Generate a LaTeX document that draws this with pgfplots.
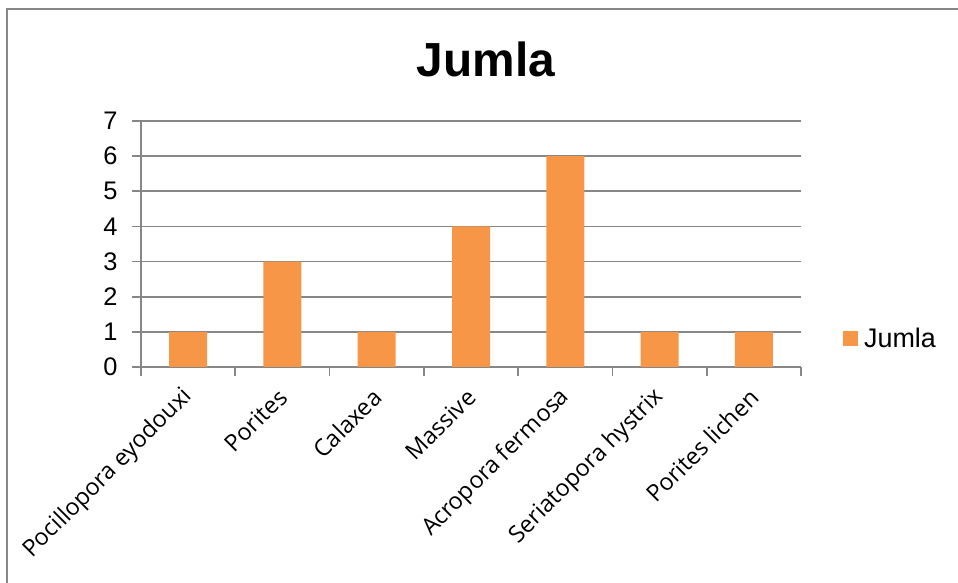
\documentclass[border=0pt]{standalone}
\usepackage{fontspec}
\setmainfont{Liberation Sans}
\newfontfamily\osans{Open Sans}
\usepackage{pgfplots}
\pgfplotsset{compat=1.18}
\definecolor{barorange}{HTML}{F79646}
\definecolor{gridgray}{HTML}{878787}
\begin{document}
\begin{tikzpicture}[x=1bp,y=1bp]
\useasboundingbox (0,0) rectangle (958,583);
\draw[gridgray, line width=2bp] (7,-5) -- (7,574) -- (965,574);
\node[anchor=base, font=\bfseries\fontsize{48}{52}\selectfont] at (486,506) {Jumla};
\begin{axis}[
  at={(141bp,216bp)}, anchor=south west,
  width=660bp, height=246bp, scale only axis,
  xmin=0.5, xmax=7.5, ymin=0, ymax=7,
  ybar, bar width=38bp,
  axis x line*=bottom, axis y line*=left,
  axis line style={gridgray, line width=1.6bp, -},
  tick align=outside, major tick length=9bp,
  tick style={gridgray, line width=1.6bp},
  ytick={0,...,7},
  ymajorgrids,
  major grid style={gridgray, line width=1.6bp},
  xtick={0.5,1.5,...,7.5},
  xticklabels={},
  extra x ticks={1,2,3,4,5,6,7},
  extra x tick labels={Pocillopora eyodouxi,Porites,Calaxea,Massive,Acropora fermosa,Seriatopora hystrix,Porites lichen},
  extra x tick style={major tick length=0pt, xmajorgrids=false,
    tick label style={yshift=-24bp, xshift=3bp, rotate=45, anchor=east, font=\osans\fontsize{23.5}{28}\selectfont}},
  /pgf/number format/assume math mode=true,
  yticklabel style={font=\fontsize{25.5}{30}\selectfont, xshift=-11bp},
  legend style={at={(1.0636,0.114)}, anchor=west, draw=none, fill=none,
    font=\fontsize{27}{32}\selectfont, inner xsep=0pt},
  legend image code/.code={\fill[#1] (0bp,-7.5bp) rectangle (15bp,7.5bp);},
  legend cell align=left,
]
\addplot[fill=barorange, draw=none] coordinates {(1,1) (2,3) (3,1) (4,4) (5,6) (6,1) (7,1)};
\addlegendentry{\hspace{4bp}Jumla}
\end{axis}
\end{tikzpicture}
\end{document}
